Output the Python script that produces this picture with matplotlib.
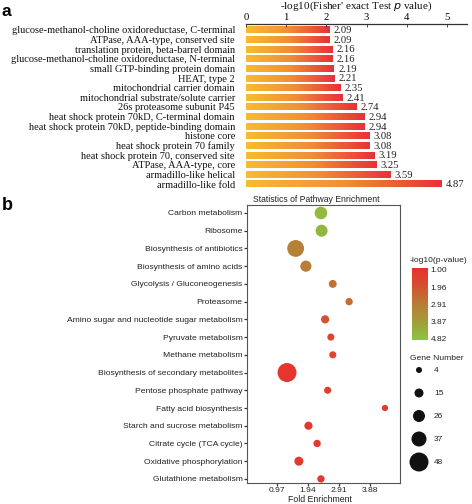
import numpy as np
import matplotlib
matplotlib.use("Agg")
import matplotlib.pyplot as plt
from matplotlib.colors import LinearSegmentedColormap, Normalize

W, H = 472, 504
DPI = 100

# ---------------- Panel a data ----------------
domains = [
    "glucose-methanol-choline oxidoreductase, C-terminal",
    "ATPase, AAA-type, conserved site",
    "translation protein, beta-barrel domain",
    "glucose-methanol-choline oxidoreductase, N-terminal",
    "small GTP-binding protein domain",
    "HEAT, type 2",
    "mitochondrial carrier domain",
    "mitochondrial substrate/solute carrier",
    "26s proteasome subunit P45",
    "heat shock protein 70kD, C-terminal domain",
    "heat shock protein 70kD, peptide-binding domain",
    "histone core",
    "heat shock protein 70 family",
    "heat shock protein 70, conserved site",
    "ATPase, AAA-type, core",
    "armadillo-like helical",
    "armadillo-like fold",
]
domain_values = [2.09, 2.09, 2.16, 2.16, 2.19, 2.21, 2.35, 2.41, 2.74,
                 2.94, 2.94, 3.08, 3.08, 3.19, 3.25, 3.59, 4.87]
a_ticks = [0, 1, 2, 3, 4, 5]

# ---------------- Panel b data ----------------
pathways = [
    "Carbon metabolism",
    "Ribosome",
    "Biosynthesis of antibiotics",
    "Biosynthesis of amino acids",
    "Glycolysis / Gluconeogenesis",
    "Proteasome",
    "Amino sugar and nucleotide sugar metabolism",
    "Pyruvate metabolism",
    "Methane metabolism",
    "Biosynthesis of secondary metabolites",
    "Pentose phosphate pathway",
    "Fatty acid biosynthesis",
    "Starch and sucrose metabolism",
    "Citrate cycle (TCA cycle)",
    "Oxidative phosphorylation",
    "Glutathione metabolism",
]
fold_enrichment = [2.35, 2.37, 1.56, 1.88, 2.72, 3.23, 2.48, 2.66, 2.72,
                   1.29, 2.56, 4.35, 1.96, 2.23, 1.66, 2.35]
neg_log_p = [4.6, 4.5, 3.0, 2.9, 2.6, 2.6, 1.9, 1.5, 1.5,
             1.1, 1.3, 1.2, 1.2, 1.2, 1.2, 1.2]
gene_number = [28, 26, 42, 23, 11, 9, 12, 8, 8, 48, 8, 5, 12, 9, 15, 9]
b_ticks = [0.97, 1.94, 2.91, 3.88]
cbar_ticks = [1.00, 1.96, 2.91, 3.87, 4.82]
size_legend = [4, 15, 26, 37, 48]
size_legend_diam_px = [6, 9, 12, 15, 19]

SERIF = ["Liberation Serif", "DejaVu Serif"]
SANS = ["Liberation Sans", "DejaVu Sans"]

fig = plt.figure(figsize=(W / DPI, H / DPI), dpi=DPI)


def ax_px(left, top, right, bottom):
    return fig.add_axes([left / W, 1 - bottom / H, (right - left) / W, (bottom - top) / H])


# ================= Panel a =================
axa = ax_px(246, 24, 467, 190)
bar_cmap = LinearSegmentedColormap.from_list("bar", ["#F8BB30", "#F09035", "#E8303A"])
grad = np.linspace(0, 1, 256).reshape(1, -1)
bh = 0.72
for i, v in enumerate(domain_values):
    axa.imshow(grad, extent=[0, v, i + bh / 2, i - bh / 2], cmap=bar_cmap,
               aspect="auto", interpolation="bilinear")
    axa.text(v + 0.1, i + 0.08, f"{v:.2f}", va="center", ha="left",
             fontsize=7.7, family=SERIF, color="#222222")
axa.set_xlim(0, 5.5)
axa.set_ylim(len(domains) - 1 + 0.62, -0.62)
axa.xaxis.tick_top()
axa.set_xticks(a_ticks)
axa.set_xticklabels([str(t) for t in a_ticks], family=SERIF, fontsize=7.7)
axa.tick_params(axis="x", length=2, width=0.6, pad=1.2, direction="in",
                color="#333333")
axa.set_yticks(range(len(domains)))
axa.set_yticklabels(domains, family=SERIF, fontsize=7.5, color="#111111")
axa.tick_params(axis="y", length=0, pad=8)
for s in ["right", "bottom", "left"]:
    axa.spines[s].set_visible(False)
axa.spines["top"].set_linewidth(0.9)
axa.spines["top"].set_color("#333333")
fig.text(356 / W, 1 - 6 / H, "-log10(Fisher' exact Test $\\mathit{p}$ value)",
         family=SERIF, fontsize=8, ha="center", va="center", color="#111111")

fig.text(2 / W, 1 - 11 / H, "a", fontsize=12.5, fontweight="bold", family=SANS,
         va="center", ha="left")

# ================= Panel b =================
axb = ax_px(247, 205, 400, 483)
pcmap = LinearSegmentedColormap.from_list(
    "p", ["#E8302E", "#D4522F", "#B87D36", "#A49C3A", "#8CC63F"])
pnorm = Normalize(vmin=0.9, vmax=4.9)
diam = np.interp(gene_number, size_legend, size_legend_diam_px)
sizes = (diam * 72 / DPI) ** 2
ypos = np.arange(len(pathways))
axb.scatter(fold_enrichment, ypos, s=sizes, c=neg_log_p, cmap=pcmap, norm=pnorm,
            edgecolors="none", zorder=3)
axb.set_xlim(0.04, 4.82)
axb.set_ylim(len(pathways) - 1 + 0.23, -0.45)
axb.set_yticks(ypos)
axb.set_yticklabels(pathways, family=SANS, fontsize=6.1, color="#222222")
axb.set_xticks(b_ticks)
axb.set_xticklabels([f"{t:.2f}" for t in b_ticks], family=SANS, fontsize=6.1,
                    color="#222222")
axb.tick_params(axis="both", length=2.2, width=0.9, pad=1, color="#333333")
for s in axb.spines.values():
    s.set_linewidth(0.8)
    s.set_color("#555555")

fig.text(316 / W, 1 - 200 / H, "Statistics of Pathway Enrichment", family=SANS,
         fontsize=6.2, ha="center", va="center", color="#222222")
fig.text(320 / W, 1 - 499 / H, "Fold Enrichment", family=SANS, fontsize=6.3,
         ha="center", va="center", color="#222222")
fig.text(2 / W, 1 - 206 / H, "b", fontsize=13, fontweight="bold", family=SANS,
         va="center", ha="left")

# colorbar
cax = ax_px(412, 268, 428, 340)
cb_vals = np.linspace(pnorm.vmin, pnorm.vmax, 256).reshape(-1, 1)
cax.imshow(cb_vals, cmap=pcmap, norm=pnorm, aspect="auto",
           extent=[0, 1, pnorm.vmax, pnorm.vmin])
cax.set_xlim(0, 1)
cax.set_ylim(pnorm.vmax, pnorm.vmin)
cax.yaxis.tick_right()
cax.set_yticks(cbar_ticks)
cax.set_yticklabels([f"{t:.2f}" for t in cbar_ticks], family=SANS, fontsize=6,
                    color="#222222")
cax.set_xticks([])
cax.tick_params(axis="y", length=0, pad=2)
for s in cax.spines.values():
    s.set_visible(False)
fig.text(410 / W, 1 - 260 / H, "-log10(p-value)", family=SANS, fontsize=6.1,
         ha="left", va="center", color="#222222")

# size legend
fig.text(410 / W, 1 - 358 / H, "Gene Number", family=SANS, fontsize=6.1,
         ha="left", va="center", color="#222222")
lax = ax_px(405, 360, 472, 475)
lax.set_xlim(405, 472)
lax.set_ylim(475, 360)
lax.axis("off")
leg_y = [370, 393, 416, 439, 462]
for g, d, yy in zip(size_legend, size_legend_diam_px, leg_y):
    lax.scatter([419], [yy], s=(d * 72 / DPI) ** 2, color="#111111",
                edgecolors="none")
    lax.text(434, yy, str(g), family=SANS, fontsize=6, va="center",
             ha="left", color="#222222")

fig.savefig("out.png", dpi=DPI)
